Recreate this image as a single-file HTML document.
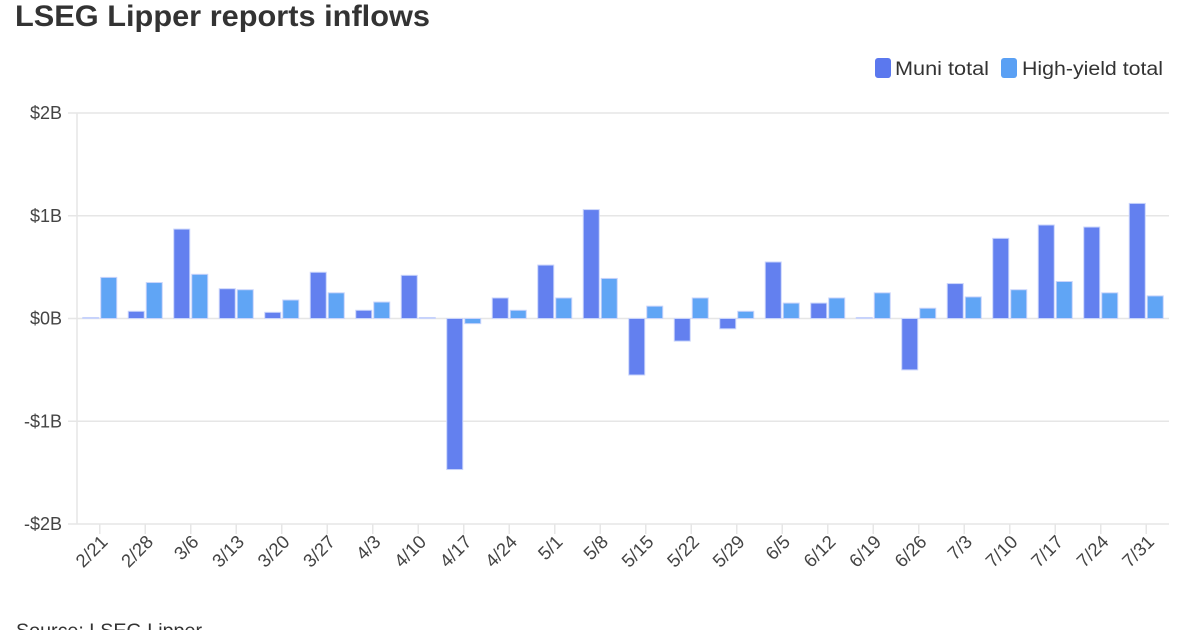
<!DOCTYPE html>
<html><head><meta charset="utf-8"><style>
body{margin:0;background:#fff;width:1200px;height:630px;overflow:hidden;font-family:"Liberation Sans",sans-serif}
svg text{font-family:"Liberation Sans",sans-serif}
</style></head><body>
<svg id="chart" width="1200" height="630">
<text x="15" y="26" font-size="30" font-weight="bold" fill="#333" textLength="415" lengthAdjust="spacingAndGlyphs">LSEG Lipper reports inflows</text>
<g>
<rect x="875" y="58" width="16" height="20" rx="3" fill="#5b78ee"/>
<text x="895" y="75" font-size="19" fill="#333" textLength="94" lengthAdjust="spacingAndGlyphs">Muni total</text>
<rect x="1001" y="58" width="16" height="20" rx="3" fill="#5aa0f4"/>
<text x="1022" y="75" font-size="19" fill="#333" textLength="141" lengthAdjust="spacingAndGlyphs">High-yield total</text>
</g>
<g id="grid"></g><g id="bars"></g><g id="xaxis"></g>
<text x="16" y="637" font-size="19" fill="#333" textLength="186" lengthAdjust="spacingAndGlyphs">Source: LSEG Lipper</text>
</svg>
<script>
const categories=["2/21","2/28","3/6","3/13","3/20","3/27","4/3","4/10","4/17","4/24","5/1","5/8","5/15","5/22","5/29","6/5","6/12","6/19","6/26","7/3","7/10","7/17","7/24","7/31"];
const muniTotal=[0.01,0.07,0.87,0.29,0.06,0.45,0.08,0.42,-1.47,0.20,0.52,1.06,-0.55,-0.22,-0.10,0.55,0.15,0.01,-0.50,0.34,0.78,0.91,0.89,1.12];
const highYieldTotal=[0.40,0.35,0.43,0.28,0.18,0.25,0.16,0.01,-0.05,0.08,0.20,0.39,0.12,0.20,0.07,0.15,0.20,0.25,0.10,0.21,0.28,0.36,0.25,0.22];
const yTicks=[2,1,0,-1,-2];
const yTickLabels=["$2B","$1B","$0B","-$1B","-$2B"];
const NS="http://www.w3.org/2000/svg";
const X0=77,X1=1169,Y0=113,Y1=524,yMax=2,yMin=-2;
const band=(X1-X0)/categories.length;
function y(v){return Y0+(yMax-v)/(yMax-yMin)*(Y1-Y0);}
function xc(i){return X0+band*(i+0.5);}
function mk(t,a,p){const e=document.createElementNS(NS,t);for(const k in a)e.setAttribute(k,a[k]);p.appendChild(e);return e;}
const grid=document.getElementById('grid'),bars=document.getElementById('bars'),xa=document.getElementById('xaxis');
yTicks.forEach((t,i)=>{
 const l=mk('line',{x1:68,x2:X1,y1:y(t),y2:y(t),stroke:'#e6e6e6','stroke-width':1.5},grid);
 
 
 const tx=mk('text',{x:62,y:y(t)+6,'text-anchor':'end','font-size':18,fill:'#444'},grid);
 tx.textContent=yTickLabels[i];
 
 
});
const ax=mk('line',{x1:X0,x2:X0,y1:Y0,y2:Y1,stroke:'#e6e6e6','stroke-width':1.5},grid);


function bar(v,x,w,fill,name){
 const top=Math.min(y(v),y(0)),h=Math.max(Math.abs(y(v)-y(0)),1);
 const r=mk('rect',{x:x,y:top,width:w,height:h,fill:fill,stroke:'#c9d4fb','stroke-width':1},bars);
 
 
}
categories.forEach((c,i)=>{
 const cx=xc(i);
 bar(muniTotal[i],cx-17,16,'#6380ef','bar-muni-'+c);
 bar(highYieldTotal[i],cx+1,16,'#60a5f5','bar-high-yield-'+c);
 const tk=mk('line',{x1:cx,x2:cx,y1:Y1,y2:Y1+10,stroke:'#e6e6e6','stroke-width':1.5},xa);
 
 
 const t=mk('text',{x:cx+9,y:Y1+19,'text-anchor':'end','font-size':18.5,fill:'#444',transform:`rotate(-45 ${cx+9} ${Y1+19})`},xa);
 t.textContent=c;
 
 
});
</script>
</body></html>
